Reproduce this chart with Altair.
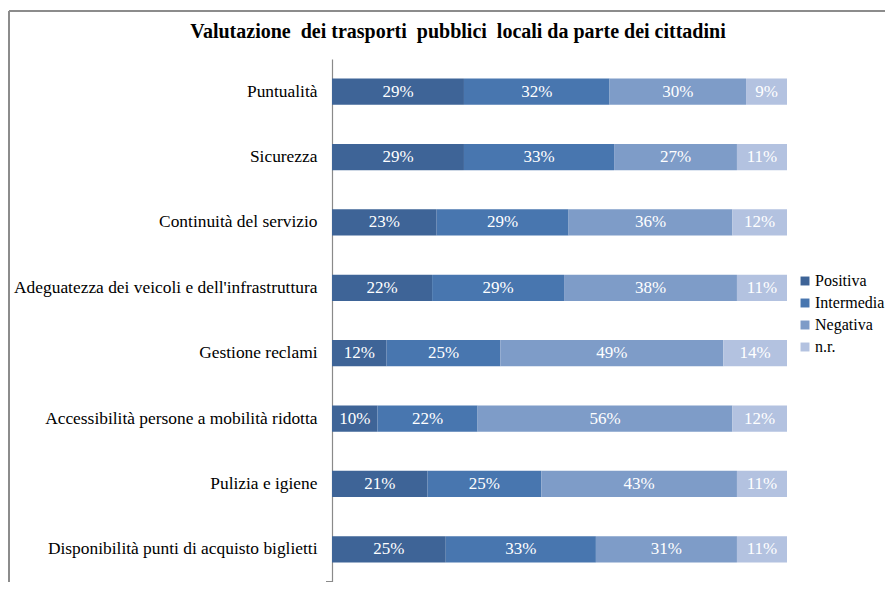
import altair as alt
import pandas as pd

categories = [
    "Puntualità",
    "Sicurezza",
    "Continuità del servizio",
    "Adeguatezza dei veicoli e dell'infrastruttura",
    "Gestione reclami",
    "Accessibilità persone a mobilità ridotta",
    "Pulizia e igiene",
    "Disponibilità punti di acquisto biglietti",
]
series = ["Positiva", "Intermedia", "Negativa", "n.r."]
positiva = [29, 29, 23, 22, 12, 10, 21, 25]
intermedia = [32, 33, 29, 29, 25, 22, 25, 33]
negativa = [30, 27, 36, 38, 49, 56, 43, 31]
nr = [9, 11, 12, 11, 14, 12, 11, 11]
colors = ["#3E6497", "#4876AF", "#7E9CC8", "#B3C2E0"]
title_text = "Valutazione\u00a0 dei trasporti\u00a0 pubblici\u00a0 locali da parte dei cittadini"

rows = []
for i, c in enumerate(categories):
    for k, (s, vals) in enumerate(zip(series, [positiva, intermedia, negativa, nr])):
        rows.append({"cat": c, "serie": s, "ord": k, "val": vals[i]})
df = pd.DataFrame(rows)

W, H = 455, 523
FONT = "Liberation Serif"

base = alt.Chart(df).transform_stack(
    stack="val", groupby=["cat"], sort=[alt.SortField("ord", order="ascending")],
    as_=["v0", "v1"]
).transform_calculate(mid="(datum.v0 + datum.v1) / 2", lbl="datum.val + '%'")

yenc = alt.Y("cat:N", sort=categories, title=None,
             scale=alt.Scale(paddingInner=0.6, paddingOuter=0.3),
             axis=alt.Axis(labelFont=FONT, labelFontSize=17.4, labelColor="#000000",
                           labelPadding=15, ticks=False, domainColor="#8a8a8a",
                           domainWidth=1.2, labelLimit=400))

bars = base.mark_bar().encode(
    x=alt.X("v0:Q", scale=alt.Scale(domain=[0, 100], nice=False), axis=None),
    x2="v1:Q",
    y=yenc,
    color=alt.Color("serie:N", sort=series,
                    scale=alt.Scale(domain=series, range=colors),
                    legend=alt.Legend(title=None, orient="none", legendX=465, legendY=214,
                                      symbolType="square", symbolSize=80,
                                      symbolStrokeWidth=0,
                                      labelFont=FONT, labelFontSize=16,
                                      labelColor="#000000", rowPadding=6,
                                      labelOffset=2)),
    order=alt.Order("ord:Q"),
)

labels = base.mark_text(color="white", font=FONT, fontSize=17, baseline="middle").encode(
    x=alt.X("mid:Q", scale=alt.Scale(domain=[0, 100], nice=False), axis=None),
    y=alt.Y("cat:N", sort=categories),
    text="lbl:N",
)

frame_data = alt.Data(values=[{"t": title_text}])
top_rule = alt.Chart(frame_data).mark_rule(color="#8c8c8c", strokeWidth=2).encode(
    x=alt.value(-323), x2=alt.value(W + 110), y=alt.value(-48))
left_rule = alt.Chart(frame_data).mark_rule(color="#8c8c8c", strokeWidth=2).encode(
    x=alt.value(-323), y=alt.value(-48), y2=alt.value(H + 10))
tick = alt.Chart(frame_data).mark_rule(color="#8a8a8a", strokeWidth=1).encode(
    x=alt.value(-6), x2=alt.value(0), y=alt.value(H - 0.5))
title = alt.Chart(frame_data).mark_text(
    font=FONT, fontSize=20, fontWeight="bold", color="#000000",
    align="center", baseline="middle").encode(
    x=alt.value(126), y=alt.value(-27), text="t:N")

chart = alt.layer(top_rule, left_rule, title, bars, labels, tick).properties(
    width=W, height=H,
    autosize=alt.AutoSizeParams(type="none"),
    padding={"left": 324, "top": 51, "right": 98, "bottom": 0},
).configure(background="white").configure_view(stroke=None)

chart.save("out.html", embed_options={"renderer": "svg", "actions": False})
